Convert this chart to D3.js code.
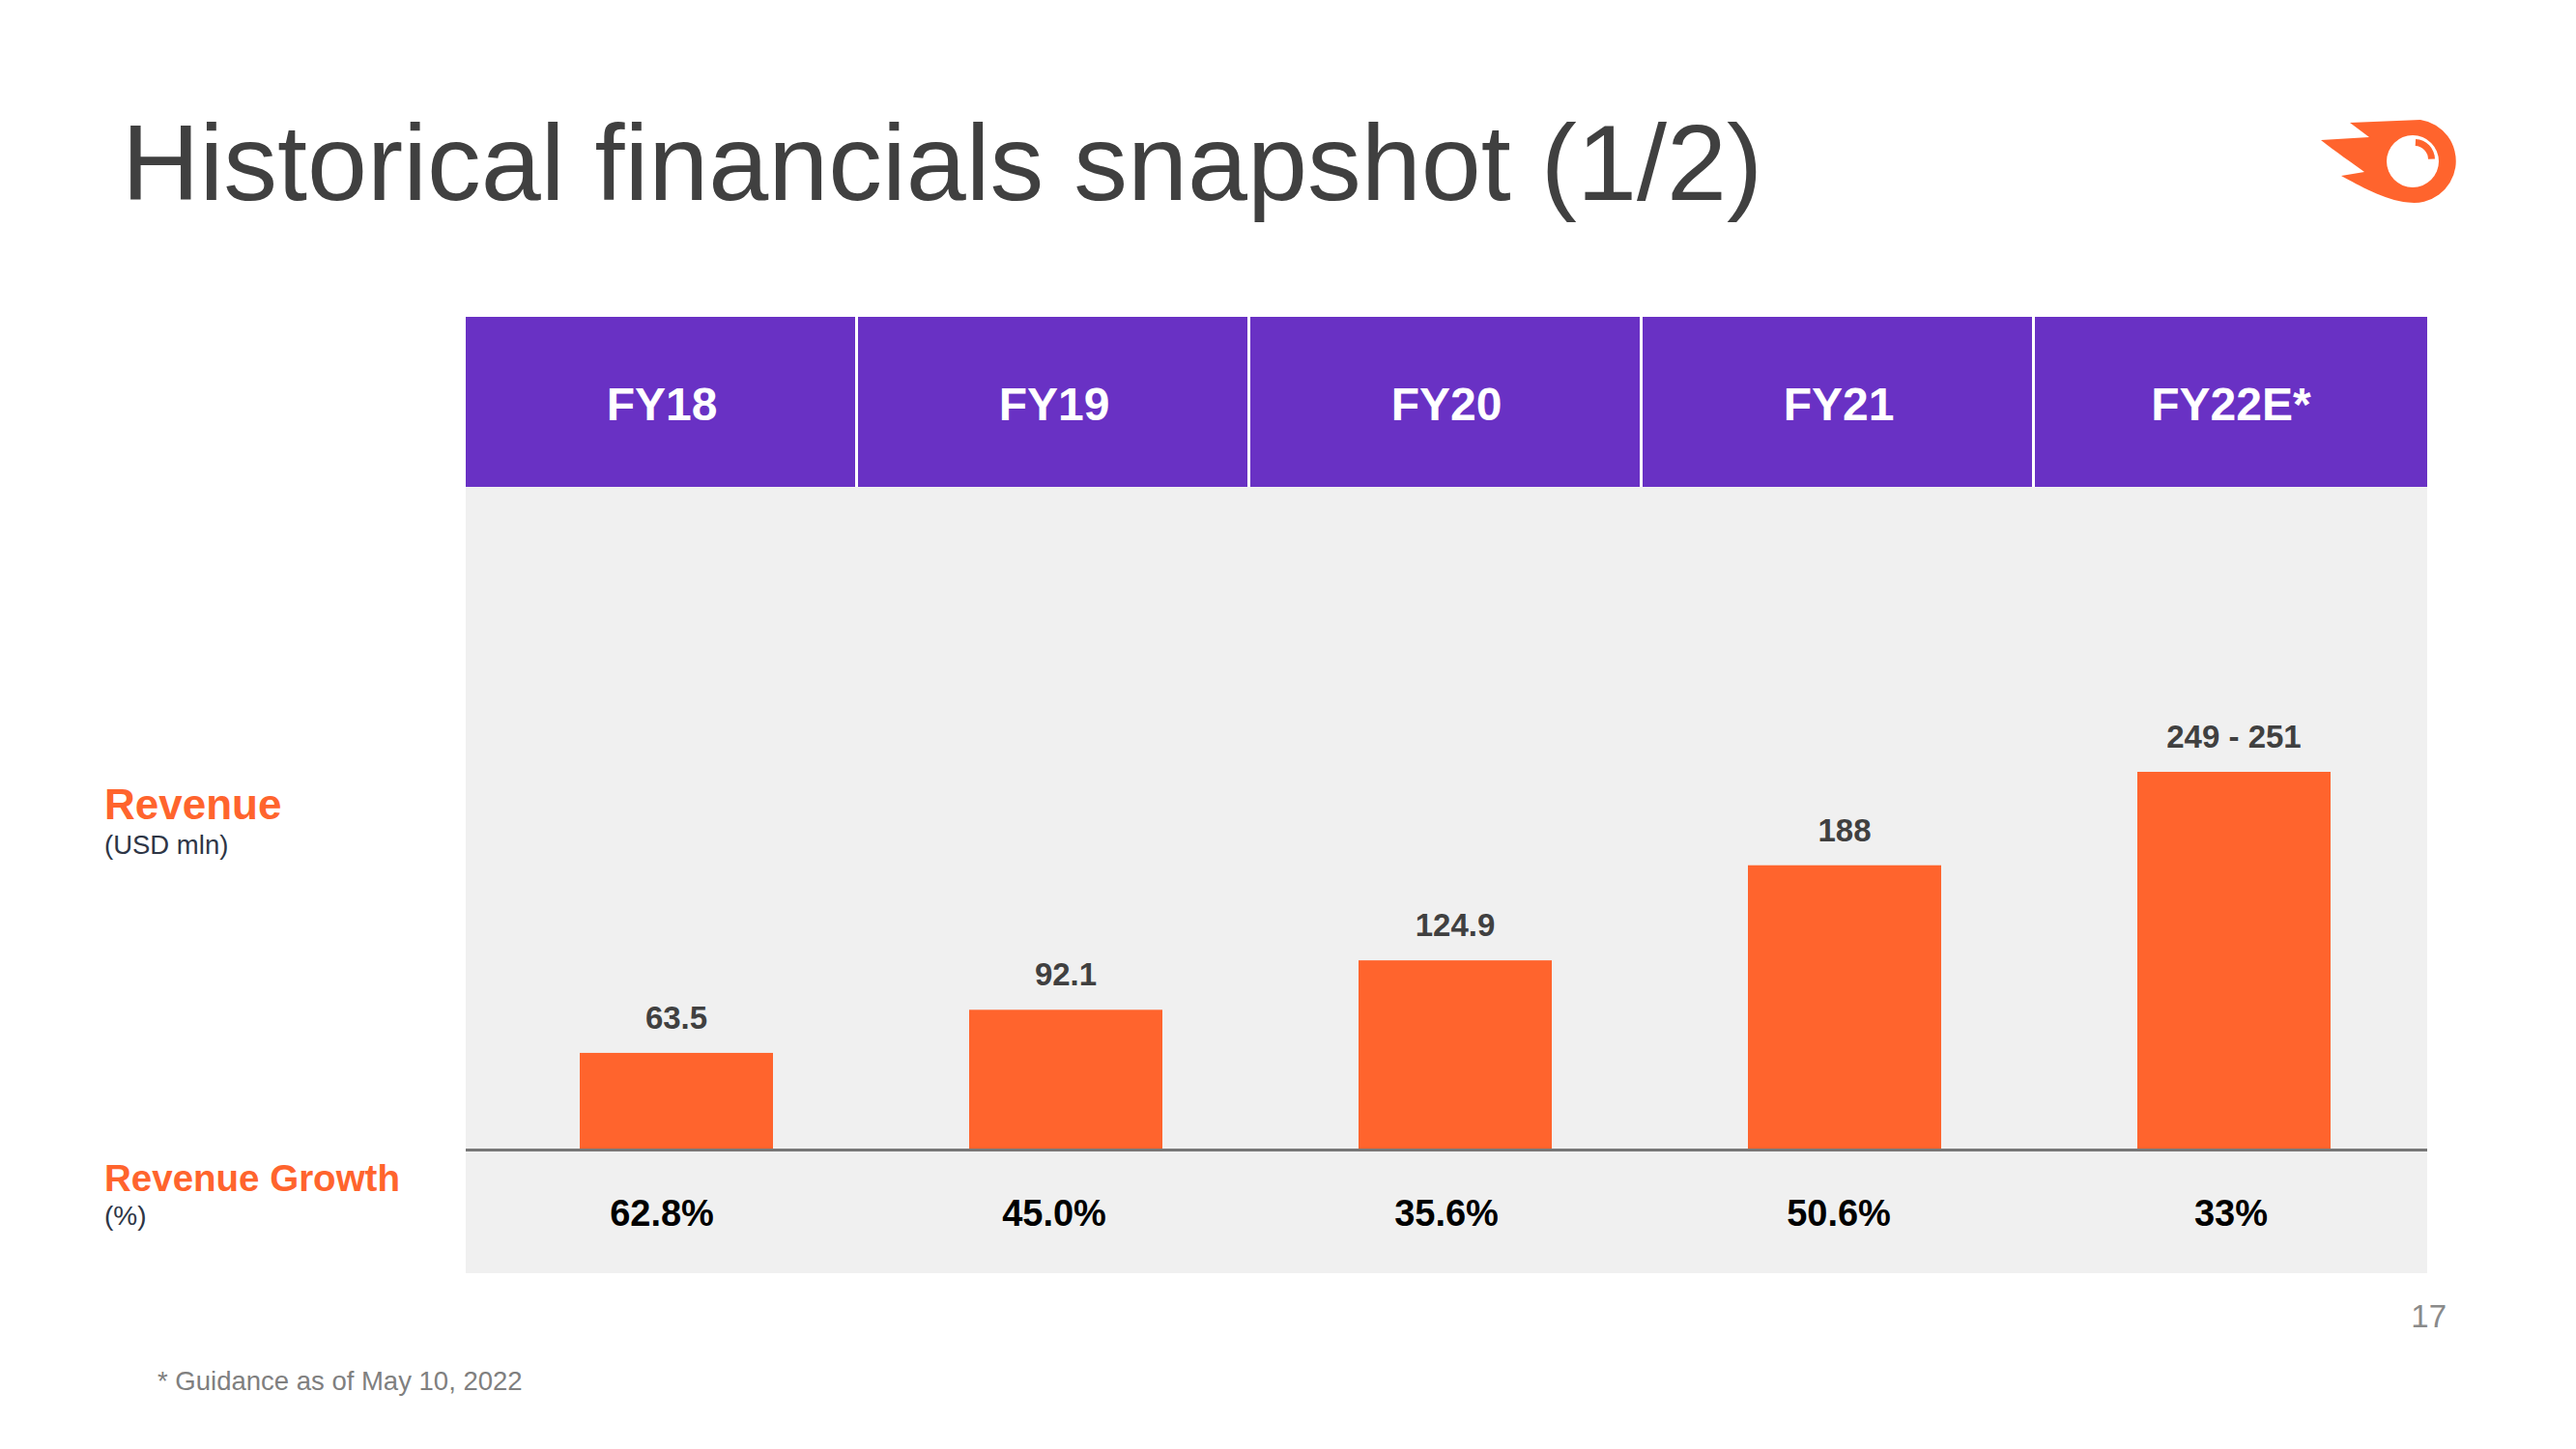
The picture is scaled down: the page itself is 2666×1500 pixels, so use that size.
<!DOCTYPE html>
<html>
<head>
<meta charset="utf-8">
<script src="https://cdn.jsdelivr.net/npm/d3@7"></script>
<style>
  html, body { margin: 0; padding: 0; background: #ffffff; }
  svg { display: block; font-family: "Liberation Sans", Arial, sans-serif; }
</style>
</head>
<body>
<svg id="chart" width="2666" height="1500"></svg>
<script>
// ---- data ----
const categories = ["FY18", "FY19", "FY20", "FY21", "FY22E*"];
const revenue = [63.5, 92.1, 124.9, 188, 250];
const revenueLabels = ["63.5", "92.1", "124.9", "188", "249 - 251"];
const growthLabels = ["62.8%", "45.0%", "35.6%", "50.6%", "33%"];

// ---- layout ----
const orange = "#FF642D";
const purple = "#6931C4";
const svg = d3.select("#chart");

// title
svg.append("text")
  .attr("x", 126).attr("y", 207)
  .attr("font-size", 111.5).attr("fill", "#404040")
  .text("Historical financials snapshot (1/2)");

// logo
const logo = svg.append("g").attr("transform", "translate(2497,167)");
logo.append("path")
  .attr("d", "M -65,-40 L 8,-43 A 43 43 0 1 1 -5,42.5 C -30,40 -55,25 -74,15 L -50,11 C -62,2 -80,-10 -95,-22 L -45,-25 Z")
  .attr("fill", orange);
logo.append("circle").attr("r", 27).attr("cx", 0).attr("cy", 0).attr("fill", "#fff");
logo.append("path")
  .attr("d", d3.arc()({innerRadius: 14, outerRadius: 21, startAngle: 0.05, endAngle: 1.55, cornerRadius: 3.5}))
  .attr("transform", "translate(2,-2)")
  .attr("fill", orange);

// scales
const xBand = d3.scaleBand().domain(categories).range([482, 2512]).padding(0);
const xBar = d3.scalePoint().domain(categories).range([700, 2312]);
const y = d3.scaleLinear().domain([0, 250]).range([1189, 799]);
const barW = 200;

// gray panel
svg.append("rect")
  .attr("x", 482).attr("y", 504).attr("width", 2512 - 482).attr("height", 1318 - 504)
  .attr("fill", "#f0f0f0");

// header cells
svg.selectAll("rect.head").data(categories).enter().append("rect")
  .attr("class", "head")
  .attr("x", d => xBand(d))
  .attr("y", 328)
  .attr("width", (d, i) => xBand.bandwidth() - (i < categories.length - 1 ? 3 : 0))
  .attr("height", 504 - 328)
  .attr("fill", purple);
svg.selectAll("text.head").data(categories).enter().append("text")
  .attr("class", "head")
  .attr("x", d => xBand(d) + xBand.bandwidth() / 2)
  .attr("y", 435)
  .attr("text-anchor", "middle")
  .attr("font-size", 48).attr("font-weight", "bold").attr("fill", "#fff")
  .text(d => d);

// bars
svg.selectAll("rect.bar").data(revenue).enter().append("rect")
  .attr("class", "bar")
  .attr("x", (d, i) => xBar(categories[i]) - barW / 2)
  .attr("y", d => y(d))
  .attr("width", barW)
  .attr("height", d => y(0) - y(d))
  .attr("fill", orange);

// value labels
svg.selectAll("text.val").data(revenue).enter().append("text")
  .attr("class", "val")
  .attr("x", (d, i) => xBar(categories[i]))
  .attr("y", d => y(d) - 25)
  .attr("text-anchor", "middle")
  .attr("font-size", 33).attr("font-weight", "bold").attr("fill", "#404040")
  .text((d, i) => revenueLabels[i]);

// baseline axis
svg.append("line")
  .attr("x1", 482).attr("x2", 2512)
  .attr("y1", 1190.5).attr("y2", 1190.5)
  .attr("stroke", "#777777").attr("stroke-width", 3);

// growth row
svg.selectAll("text.growth").data(growthLabels).enter().append("text")
  .attr("class", "growth")
  .attr("x", (d, i) => xBand(categories[i]) + xBand.bandwidth() / 2)
  .attr("y", 1269)
  .attr("text-anchor", "middle")
  .attr("font-size", 38).attr("font-weight", "bold").attr("fill", "#000")
  .text(d => d);

// left labels
svg.append("text").attr("x", 108).attr("y", 848)
  .attr("font-size", 44).attr("font-weight", "bold").attr("fill", orange).text("Revenue");
svg.append("text").attr("x", 108).attr("y", 884)
  .attr("font-size", 27.5).attr("fill", "#2e3646").text("(USD mln)");
svg.append("text").attr("x", 108).attr("y", 1233)
  .attr("font-size", 38.5).attr("font-weight", "bold").attr("fill", orange).text("Revenue Growth");
svg.append("text").attr("x", 108).attr("y", 1268)
  .attr("font-size", 28).attr("fill", "#2e3646").text("(%)");

// page number
svg.append("text").attr("x", 2532).attr("y", 1374)
  .attr("text-anchor", "end")
  .attr("font-size", 33).attr("fill", "#8a8a8a").text("17");

// footnote
svg.append("text").attr("x", 163).attr("y", 1439)
  .attr("font-size", 27.5).attr("fill", "#7f7f7f").text("* Guidance as of May 10, 2022");
</script>
</body>
</html>
